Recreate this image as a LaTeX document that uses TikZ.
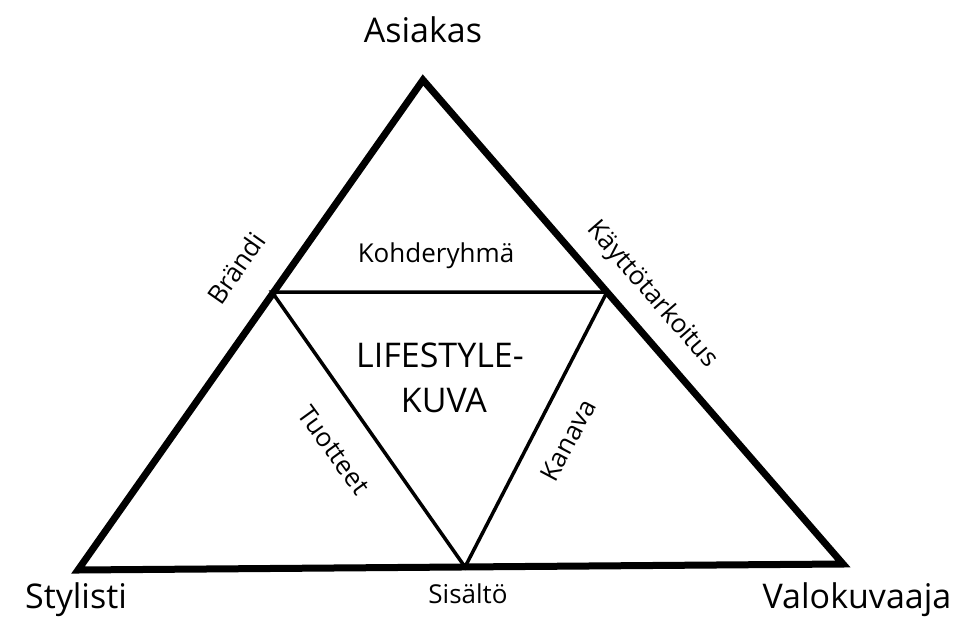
\documentclass[tikz,border=0pt]{standalone}
\usepackage{fontspec}
\setmainfont{Open Sans}
\begin{document}
\begin{tikzpicture}[x=1pt,y=-1pt,
  outer/.style={line width=7pt,line join=miter},
  inner/.style={line width=3.5pt,line join=miter},
  big/.style={font=\fontsize{34}{40}\selectfont,inner sep=0pt},
  mid/.style={font=\fontsize{34}{45}\selectfont,inner sep=0pt},
  small/.style={font=\fontsize{26}{30}\selectfont,inner sep=0pt}]
\useasboundingbox (0,0) rectangle (962,619);
\coordinate (A) at (423,80);
\coordinate (S) at (78,570);
\coordinate (V) at (843,564);
\coordinate (L) at (272,292);
\coordinate (R) at (607,292);
\coordinate (B) at (465,567);
\draw[outer] (A) -- (S) -- (V) -- cycle;
\draw[inner] (L) -- (R) -- (B) -- cycle;
\node[big,anchor=base] (asiakas) at (423,42) {Asiakas};
\node[big,anchor=base] (stylisti) at (76,608) {Stylisti};
\node[big,anchor=base] (valo) at (857,608) {Valokuvaaja};
\node[small,anchor=base] (sisalto) at (468,603) {Sisältö};
\node[small,anchor=base] (kohde) at (436,262) {Kohderyhmä};
\node[mid,anchor=base] (life1) at (440,367) {LIFESTYLE-};
\node[mid,anchor=base] (life2) at (444,412) {KUVA};
\node[small,rotate=55] (brandi) at (236,268) {Brändi};
\node[small,rotate=-49] (kaytto) at (652,295) {Käyttötarkoitus};
\node[small,rotate=-54] (tuote) at (334,450) {Tuotteet};
\node[small,rotate=62] (kanava) at (568,440) {Kanava};
\end{tikzpicture}
\end{document}
